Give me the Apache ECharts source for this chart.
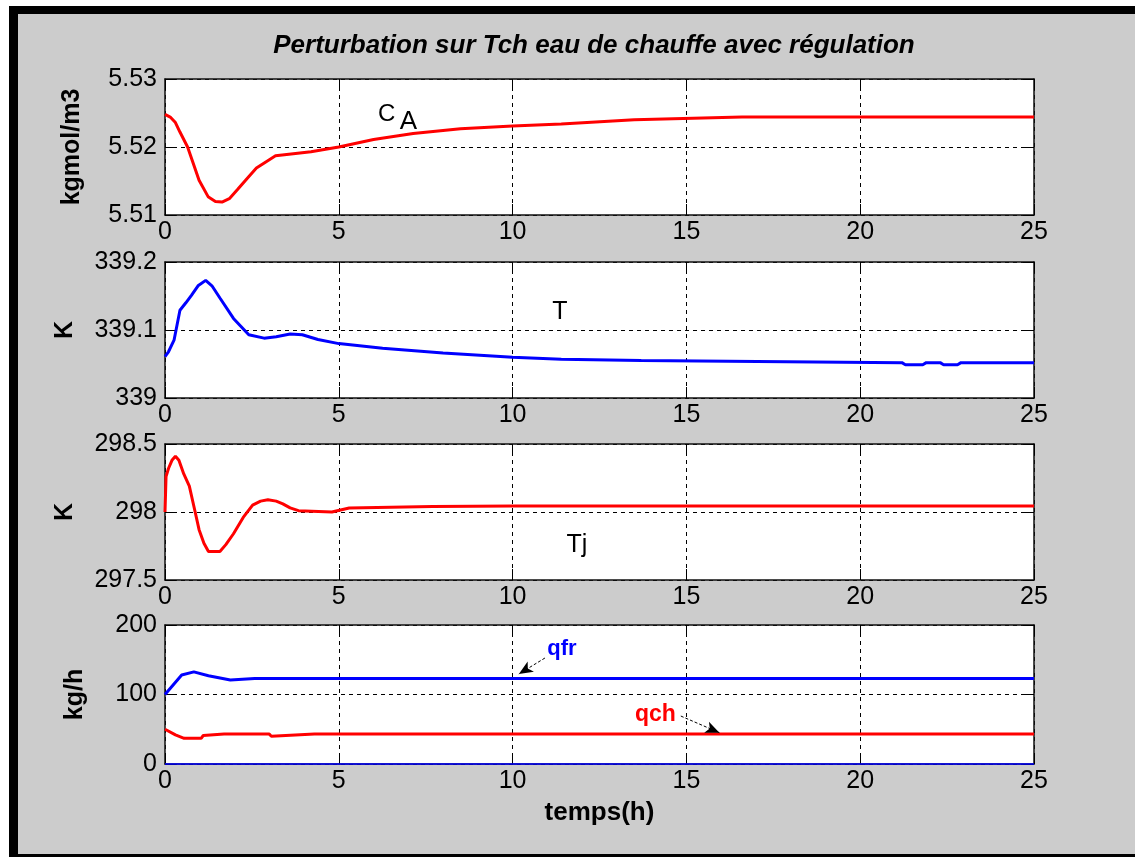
<!DOCTYPE html>
<html>
<head>
<meta charset="utf-8">
<script src="https://cdn.jsdelivr.net/npm/echarts@6.0.0/dist/echarts.min.js"></script>
<style>
  html, body { margin: 0; padding: 0; background: #ffffff; }
  #chart { width: 1135px; height: 857px; }
</style>
</head>
<body>
<div id="chart"></div>
<script>
// Time axis (hours)
const timeTicks = [0, 5, 10, 15, 20, 25];

// Concentration C_A (kgmol/m3)
const caTime = [0, 0.15, 0.3, 0.43, 0.65, 0.98, 1.24, 1.45, 1.64, 1.85, 2.08, 2.35, 2.63, 2.9, 3.18, 3.5, 4.2, 5.0, 6.0, 7.14, 8.5, 10, 11.4, 13.5, 16.6, 20, 25];
const caValues = [5.5248, 5.5244, 5.5236, 5.5222, 5.5200, 5.5151, 5.5127, 5.5120, 5.5119, 5.5124, 5.5137, 5.5153, 5.5169, 5.5178, 5.5187, 5.5189, 5.5193, 5.5200, 5.5211, 5.5220, 5.5227, 5.5231, 5.5234, 5.5240, 5.5244, 5.5244, 5.5244];

// Reactor temperature T (K)
const tTime = [0, 0.1, 0.26, 0.43, 0.6, 0.76, 0.95, 1.17, 1.35, 1.58, 1.97, 2.41, 2.85, 3.2, 3.6, 3.95, 4.4, 5.0, 6.26, 8, 10, 11.4, 13.7, 21.2, 21.3, 21.8, 21.9, 22.3, 22.4, 22.8, 22.9, 25];
const tValues = [339.061, 339.068, 339.085, 339.129, 339.140, 339.151, 339.165, 339.173, 339.165, 339.147, 339.117, 339.093, 339.088, 339.090, 339.094, 339.093, 339.086, 339.080, 339.073, 339.066, 339.060, 339.057, 339.055, 339.052, 339.049, 339.049, 339.052, 339.052, 339.049, 339.049, 339.052, 339.052];

// Jacket temperature Tj (K)
const tjTime = [0, 0.03, 0.1, 0.2, 0.3, 0.4, 0.54, 0.7, 0.85, 0.98, 1.12, 1.25, 1.58, 1.75, 1.97, 2.25, 2.52, 2.75, 2.96, 3.2, 3.39, 3.6, 3.84, 4.8, 5.3, 7.7, 10, 25];
const tjValues = [298.00, 298.26, 298.32, 298.38, 298.41, 298.38, 298.28, 298.19, 298.02, 297.87, 297.77, 297.71, 297.71, 297.76, 297.84, 297.96, 298.05, 298.08, 298.09, 298.08, 298.06, 298.03, 298.01, 298.00, 298.03, 298.04, 298.045, 298.045];

// Cold and hot water flow rates (kg/h)
const qfrTime = [0, 0.48, 0.83, 1.25, 1.88, 2.58, 25];
const qfrValues = [100, 128, 132.5, 127, 121, 123, 123];
const qchTime = [0, 0.3, 0.55, 1.04, 1.1, 1.7, 3.0, 3.06, 4.3, 25];
const qchValues = [50, 42, 37, 37, 41, 43, 43, 40, 43, 43];
const zeroTime = [0, 25];
const zeroValues = [0, 0];

const FONT = "'Liberation Sans', Arial, Helvetica, sans-serif";
const pairs = (xs, ys) => xs.map((x, i) => [x, ys[i]]);
const fmtNum = v => String(+v.toFixed(3));

// Panel layout: top / height of each plot box
const panels = [
  { top: 79,  height: 136, min: 5.51,  max: 5.53,  step: 0.01, name: 'kgmol/m3', gap: 80 },
  { top: 262, height: 136, min: 339,   max: 339.2, step: 0.1,  name: 'K',        gap: 87 },
  { top: 444, height: 136, min: 297.5, max: 298.5, step: 0.5,  name: 'K',        gap: 87 },
  { top: 625, height: 139, min: 0,     max: 200,   step: 100,  name: 'kg/h',     gap: 77 }
];

const frameLine = { show: true, onZero: false, lineStyle: { color: '#111', width: 1.5 } };
const innerTick = { show: true, inside: true, length: 11, lineStyle: { color: '#000', width: 1 } };
const gridDash = { show: true, lineStyle: { color: '#000', width: 1, type: [4, 4] } };
const tickLabel = { color: '#000', fontFamily: FONT, fontSize: 25 };

const grids = [], xAxes = [], yAxes = [];
panels.forEach((p, i) => {
  grids.push({ left: 165, right: 101, top: p.top, height: p.height, show: true, backgroundColor: '#ffffff', borderWidth: 0 });
  const last = i === panels.length - 1;
  xAxes.push({
    gridIndex: i, type: 'value', min: 0, max: 25, interval: 5, position: 'bottom',
    axisLine: frameLine, axisTick: innerTick, splitLine: gridDash,
    axisLabel: Object.assign({ margin: 5, formatter: v => String(v) }, tickLabel),
    name: last ? 'temps(h)' : '', nameLocation: 'middle', nameGap: 36,
    nameTextStyle: { color: '#000', fontFamily: FONT, fontSize: 26, fontWeight: 'bold' }
  });
  xAxes.push({
    gridIndex: i, type: 'value', min: 0, max: 25, interval: 5, position: 'top',
    axisLine: frameLine, axisTick: innerTick, splitLine: { show: false }, axisLabel: { show: false }
  });
  yAxes.push({
    gridIndex: i, type: 'value', min: p.min, max: p.max, interval: p.step, position: 'left',
    axisLine: frameLine, axisTick: innerTick, splitLine: gridDash,
    axisLabel: Object.assign({ margin: 8, formatter: fmtNum }, tickLabel),
    name: p.name, nameLocation: 'middle', nameRotate: 90, nameGap: p.gap,
    nameTextStyle: { color: '#000', fontFamily: FONT, fontSize: 25, fontWeight: 'bold' }
  });
  yAxes.push({
    gridIndex: i, type: 'value', min: p.min, max: p.max, interval: p.step, position: 'right',
    axisLine: frameLine, axisTick: innerTick, splitLine: { show: false }, axisLabel: { show: false }
  });
});

const noteLabel = (text, color, weight, size) => ({
  show: true, position: 'inside', formatter: text, color: color,
  fontFamily: FONT, fontSize: size, fontWeight: weight
});
const note = (x, y, text, color, weight, size) => ({
  coord: [x, y], symbol: 'circle', symbolSize: 1,
  itemStyle: { color: 'rgba(0,0,0,0)' },
  label: noteLabel(text, color, weight, size)
});
const arrow = (x1, y1, x2, y2) => [{ coord: [x1, y1] }, { coord: [x2, y2] }];
const arrowStyle = {
  silent: true, symbol: ['none', 'arrow'], symbolSize: [9, 14],
  lineStyle: { color: '#000', width: 1, type: [3, 2] },
  label: { show: false }, emphasis: { disabled: true }
};

const lineSeries = (name, axis, data, color, extra) => Object.assign({
  name, type: 'line', xAxisIndex: 2 * axis, yAxisIndex: 2 * axis, data,
  showSymbol: false, symbol: 'none', animation: false,
  lineStyle: { color, width: 3 }, itemStyle: { color }, z: 3
}, extra || {});

const option = {
  animation: false,
  title: {
    text: 'Perturbation sur Tch eau de chauffe avec régulation',
    left: 589, top: 28, textAlign: 'center',
    textStyle: { color: '#000', fontFamily: FONT, fontSize: 26, fontWeight: 'bold', fontStyle: 'italic' }
  },
  graphic: [
    { type: 'rect', z: -10, shape: { x: 9, y: 6, width: 1126, height: 851 }, style: { fill: '#000' }, silent: true },
    { type: 'rect', z: -9, shape: { x: 18, y: 14, width: 1117, height: 840 }, style: { fill: '#cccccc' }, silent: true }
  ],
  grid: grids,
  xAxis: xAxes,
  yAxis: yAxes,
  series: [
    lineSeries('CA', 0, pairs(caTime, caValues), '#ff0000', {
      markPoint: { silent: true, animation: false, data: [
        note(6.38, 5.52485, 'C', '#000', 'normal', 24),
        note(7.00, 5.52365, 'A', '#000', 'normal', 26)
      ] }
    }),
    lineSeries('T', 1, pairs(tTime, tValues), '#0000ff', {
      markPoint: { silent: true, animation: false, data: [note(11.36, 339.126, 'T', '#000', 'normal', 25)] }
    }),
    lineSeries('Tj', 2, pairs(tjTime, tjValues), '#ff0000', {
      markPoint: { silent: true, animation: false, data: [note(11.85, 297.757, 'Tj', '#000', 'normal', 25)] }
    }),
    lineSeries('qfr', 3, pairs(qfrTime, qfrValues), '#0000ff', {
      markPoint: { silent: true, animation: false, data: [note(11.42, 165.5, 'qfr', '#0000ff', 'bold', 22)] },
      markLine: Object.assign({ animation: false, data: [arrow(10.93, 152.5, 10.18, 129.5)] }, arrowStyle)
    }),
    lineSeries('qch', 3, pairs(qchTime, qchValues), '#ff0000', {
      markPoint: { silent: true, animation: false, data: [note(14.11, 70.5, 'qch', '#ff0000', 'bold', 23)] },
      markLine: Object.assign({ animation: false, data: [arrow(14.84, 69, 15.95, 45)] }, arrowStyle)
    }),
    lineSeries('zero', 3, pairs(zeroTime, zeroValues), '#0000ff', { clip: false, lineStyle: { color: '#0000ff', width: 1.5 }, z: 4 })
  ]
};

const chart = echarts.init(document.getElementById('chart'), null, { renderer: 'canvas' });
chart.setOption(option);
</script>
</body>
</html>
